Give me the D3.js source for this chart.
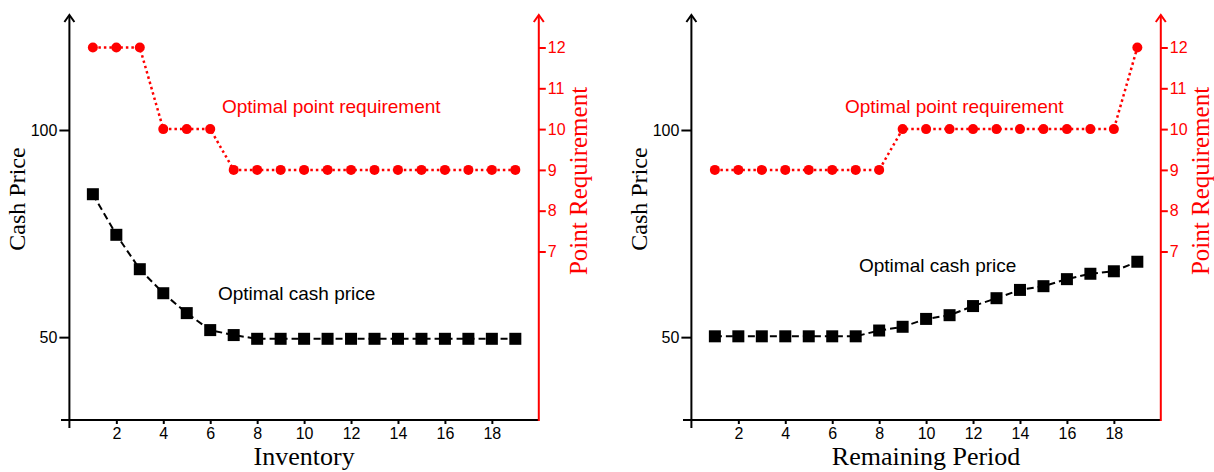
<!DOCTYPE html>
<html><head><meta charset="utf-8">
<script src="https://cdn.jsdelivr.net/npm/d3@7"></script>
<style>body{margin:0;background:#fff}svg{display:block}</style>
</head><body>
<svg id="c" width="1214" height="472"></svg>
<script>
// Data
const xValues = [1,2,3,4,5,6,7,8,9,10,11,12,13,14,15,16,17,18,19];
const inventoryCash = [84.5,74.7,66.4,60.6,55.8,51.7,50.5,49.6,49.6,49.6,49.6,49.6,49.6,49.6,49.6,49.6,49.6,49.6,49.6];
const inventoryPoints = [12,12,12,10,10,10,9,9,9,9,9,9,9,9,9,9,9,9,9];
const periodCash = [50.2,50.2,50.2,50.2,50.2,50.2,50.2,51.6,52.5,54.4,55.3,57.5,59.4,61.4,62.3,64.0,65.3,65.9,68.2];
const periodPoints = [9,9,9,9,9,9,9,9,10,10,10,10,10,10,10,10,10,10,12];
const xTicks = [2,4,6,8,10,12,14,16,18];
const leftTicks = [50,100];
const rightTicks = [7,8,9,10,11,12];
const panels = [
  {xTitle:"Inventory", cash: inventoryCash, points: inventoryPoints, offset:0, cashLabel:[218,300], ptLabel:[222,113]},
  {xTitle:"Remaining Period", cash: periodCash, points: periodPoints, offset:622, cashLabel:[859,272], ptLabel:[845,113]}
];

const svg = d3.select("#c");
const RED = "#ff0000";
const sans = "'Liberation Sans', Arial, sans-serif";
const serif = "'Liberation Serif', 'Times New Roman', serif";

panels.forEach(p => {
  const g = svg.append("g").attr("transform", `translate(${p.offset},0)`);
  const x = d3.scaleLinear().domain([0,20]).range([69.4,538.8]);
  const yL = d3.scaleLinear().domain([30,100]).range([420,130]);
  const yR = d3.scaleLinear().domain([7,12]).range([251.5,47.5]);
  const topY = 15;

  // x axis
  const xa = g.append("g").attr("transform","translate(0,420)")
    .call(d3.axisBottom(x).tickValues(xTicks).tickFormat(d3.format("d")).tickSize(4).tickPadding(4).tickSizeOuter(0));
  xa.select(".domain").remove();
  xa.selectAll("line").attr("stroke","#000").attr("stroke-width",2);
  xa.selectAll("text").attr("font-family",sans).attr("font-size",16).attr("fill","#000");
  g.append("line").attr("x1",61).attr("x2",x(20)).attr("y1",420).attr("y2",420)
    .attr("stroke","#000").attr("stroke-width",2);
  // tick at 0 going down
  g.append("line").attr("x1",x(0)).attr("x2",x(0)).attr("y1",420).attr("y2",428)
    .attr("stroke","#000").attr("stroke-width",2);

  // left axis
  const ya = g.append("g").attr("transform",`translate(${x(0)},0)`)
    .call(d3.axisLeft(yL).tickValues(leftTicks).tickFormat(d3.format("d")).tickSize(10).tickPadding(2));
  ya.select(".domain").remove();
  ya.selectAll("line").attr("stroke","#000").attr("stroke-width",2);
  ya.selectAll("text").attr("font-family",sans).attr("font-size",16).attr("fill","#000");
  g.append("line").attr("x1",x(0)).attr("x2",x(0)).attr("y1",420).attr("y2",topY+1)
    .attr("stroke","#000").attr("stroke-width",2);
  g.append("path").attr("d",`M${x(0)-5},${topY+7}L${x(0)},${topY}L${x(0)+5},${topY+7}`)
    .attr("fill","none").attr("stroke","#000").attr("stroke-width",2);

  // right axis
  const ra = g.append("g").attr("transform",`translate(${x(20)},0)`)
    .call(d3.axisRight(yR).tickValues(rightTicks).tickFormat(d3.format("d")).tickSize(7).tickPadding(2));
  ra.select(".domain").remove();
  ra.selectAll("line").attr("stroke",RED).attr("stroke-width",2);
  ra.selectAll("text").attr("font-family",sans).attr("font-size",16).attr("fill",RED);
  g.append("line").attr("x1",x(20)).attr("x2",x(20)).attr("y1",421).attr("y2",topY+1)
    .attr("stroke",RED).attr("stroke-width",2);
  g.append("path").attr("d",`M${x(20)-5},${topY+7}L${x(20)},${topY}L${x(20)+5},${topY+7}`)
    .attr("fill","none").attr("stroke",RED).attr("stroke-width",2);

  // cash line
  const cashData = xValues.map((v,i)=>[v,p.cash[i]]);
  g.append("path").datum(cashData)
    .attr("d", d3.line().x(d=>x(d[0])).y(d=>yL(d[1])))
    .attr("fill","none").attr("stroke","#000").attr("stroke-width",2).attr("stroke-dasharray","7,4");
  g.selectAll(".sq").data(cashData).join("rect")
    .attr("x",d=>x(d[0])-6).attr("y",d=>yL(d[1])-6).attr("width",12).attr("height",12).attr("fill","#000");

  // point line
  const ptData = xValues.map((v,i)=>[v,p.points[i]]);
  g.append("path").datum(ptData)
    .attr("d", d3.line().x(d=>x(d[0])).y(d=>yR(d[1])))
    .attr("fill","none").attr("stroke",RED).attr("stroke-width",2.5).attr("stroke-dasharray","2.5,3");
  g.selectAll(".ci").data(ptData).join("circle")
    .attr("cx",d=>x(d[0])).attr("cy",d=>yR(d[1])).attr("r",5).attr("fill",RED);

  // annotations
  svg.append("text").attr("x",p.ptLabel[0]).attr("y",p.ptLabel[1]).attr("font-family",sans)
    .attr("font-size",19).attr("fill",RED).text("Optimal point requirement");
  svg.append("text").attr("x",p.cashLabel[0]).attr("y",p.cashLabel[1]).attr("font-family",sans)
    .attr("font-size",19).attr("fill","#000").text("Optimal cash price");

  // titles
  g.append("text").attr("x",(x(0)+x(20))/2).attr("y",465).attr("text-anchor","middle")
    .attr("font-family",serif).attr("font-size",26).attr("fill","#000").text(p.xTitle);
  g.append("text").attr("transform",`translate(25,199) rotate(-90)`).attr("text-anchor","middle")
    .attr("font-family",serif).attr("font-size",24).attr("fill","#000").text("Cash Price");
  g.append("text").attr("transform",`translate(587,181) rotate(-90)`).attr("text-anchor","middle")
    .attr("font-family",serif).attr("font-size",25).attr("fill",RED).text("Point Requirement");
});
</script>
</body></html>
